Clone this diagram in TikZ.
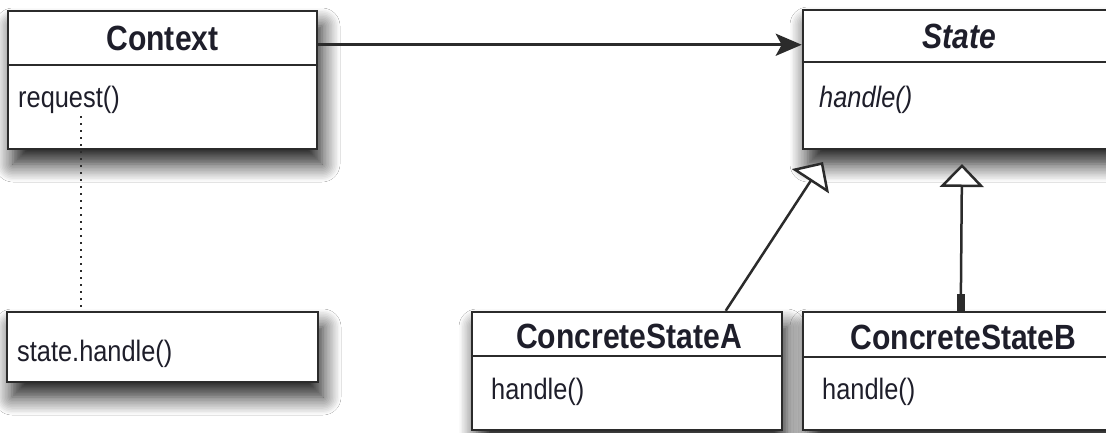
\documentclass[tikz,border=0pt]{standalone}
\usepackage{fontspec}
\setmainfont{Liberation Sans}[FakeStretch=0.86]
\usetikzlibrary{arrows.meta,shadows.blur}
\definecolor{ink}{HTML}{2B2B2B}
\definecolor{txt}{HTML}{1E1E2A}
\begin{document}
\begin{tikzpicture}[x=1pt,y=-1pt,
  umlbox/.style={draw=ink, line width=2.5pt, fill=white, rectangle, inner sep=0pt,
    blur shadow={shadow xshift=5pt, shadow yshift=-15pt, shadow blur radius=18pt, shadow opacity=90, shadow blur steps=12}},
  divider/.style={draw=ink, line width=2pt},
  hdr/.style={font=\fontsize{35}{40}\selectfont\bfseries, text=txt, inner sep=0pt},
  hdri/.style={font=\fontsize{35}{40}\selectfont\bfseries\itshape, text=txt, inner sep=0pt},
  body/.style={font=\fontsize{29.5}{34}\selectfont, text=txt, inner sep=0pt, anchor=west},
  bodyi/.style={body, font=\fontsize{29.5}{34}\selectfont\itshape},
  assoc/.style={draw=ink, line width=3pt, -{Stealth[length=26pt,width=22pt,inset=6pt]}},
  inh/.style={draw=ink, line width=2.5pt, -{Triangle[open, length=23pt, width=44pt, fill=white, line width=2.5pt]}},
  dots/.style={draw=ink, line width=2pt, dash pattern=on 2pt off 5pt},
  stub/.style={draw=ink, line width=8pt}]
\useasboundingbox (0,0) rectangle (1106,432);
\fill[white] (0,0) rectangle (1106,432);

% boxes
\node[umlbox, minimum width=309pt, minimum height=138pt] (ctx) at (162.5,80) {};
\node[umlbox, minimum width=317pt, minimum height=139pt] (st) at (961.5,79.5) {};
\node[umlbox, minimum width=311pt, minimum height=70pt] (note) at (162.5,347) {};
\node[umlbox, minimum width=310pt, minimum height=118pt] (cA) at (627,371) {};
\node[umlbox, minimum width=317pt, minimum height=118pt] (cB) at (961.5,371) {};

% dividers
\draw[divider] ([yshift=-55pt]ctx.north west) -- ([yshift=-55pt]ctx.north east);
\draw[divider] ([yshift=-53pt]st.north west) -- ([yshift=-53pt]st.north east);
\draw[divider] ([yshift=-45pt]cA.north west) -- ([yshift=-45pt]cA.north east);
\draw[divider] ([yshift=-46pt]cB.north west) -- ([yshift=-46pt]cB.north east);

% texts
\node[hdr] (ctxT) at (162.5,38.5) {Context};
\node[hdri] (stT) at (959,36.5) {State};
\node[hdr] (aT) at (629,336) {ConcreteStateA};
\node[hdr] (bT) at (963.5,337) {ConcreteStateB};
\node[body] (reqT) at (18,100) {request()};
\node[bodyi] (stH) at (819,100) {handle()};
\node[body] (noteT) at (17,354) {state.handle()};
\node[body] (aH) at (491,392) {handle()};
\node[body] (bH) at (822,392) {handle()};

% connectors
\draw[assoc] ([yshift=-35pt]ctx.north east) -- ([yshift=-36pt]st.north west);
\coordinate (d0) at (81,116);
\draw[dots] (d0) -- (d0 |- note.north);
\coordinate (tipA) at (823,162);
\coordinate (tipB) at (962,164);
\draw[inh] ([xshift=255pt]cA.north west) -- (tipA);
\draw[inh] ([xshift=159pt]cB.north west) -- (tipB);
\draw[stub] ([xshift=159pt]cB.north west) -- ++(0,-17);
\end{tikzpicture}
\end{document}
